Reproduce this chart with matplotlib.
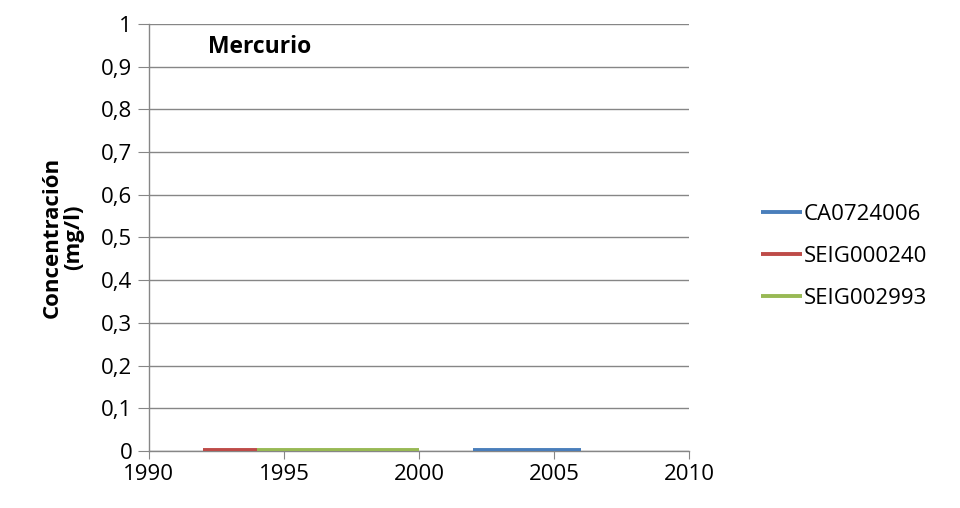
import matplotlib.pyplot as plt
from matplotlib.ticker import FuncFormatter

plt.rcParams['font.family'] = ['Open Sans', 'DejaVu Sans']

# series data (years, concentration mg/l)
years_ca = [2002, 2006]
vals_ca = [0.002, 0.002]
years_s240 = [1992, 1994]
vals_s240 = [0.002, 0.002]
years_s2993 = [1994, 2000]
vals_s2993 = [0.002, 0.002]

x_ticks = [1990, 1995, 2000, 2005, 2010]
y_ticks = [0, 0.1, 0.2, 0.3, 0.4, 0.5, 0.6, 0.7, 0.8, 0.9, 1]

fig = plt.figure(figsize=(9.6, 5.08), dpi=100)
ax = fig.add_axes([0.155, 0.112, 0.563, 0.841])

ax.plot(years_ca, vals_ca, color='#4a7ebb', lw=2.8, label='CA0724006', zorder=3, solid_capstyle='butt')
ax.plot(years_s240, vals_s240, color='#be4b48', lw=2.8, label='SEIG000240', zorder=3, solid_capstyle='butt')
ax.plot(years_s2993, vals_s2993, color='#98b954', lw=2.8, label='SEIG002993', zorder=3, solid_capstyle='butt')

ax.set_xlim(1990, 2010)
ax.set_ylim(0, 1)
ax.set_xticks(x_ticks)
ax.set_yticks(y_ticks)
ax.yaxis.set_major_formatter(FuncFormatter(lambda v, p: ('%g' % round(v, 1)).replace('.', ',')))
ax.grid(axis='y', color='#868686', lw=1.0)
ax.set_axisbelow(True)

for s in ['top', 'right']:
    ax.spines[s].set_visible(False)
for s in ['left', 'bottom']:
    ax.spines[s].set_color('#868686')
    ax.spines[s].set_linewidth(1.0)
ax.tick_params(axis='x', direction='out', length=6, color='#868686', labelsize=16, pad=3)
ax.tick_params(axis='y', direction='out', length=8, color='#868686', labelsize=16, pad=4)

ax.set_ylabel('Concentración\n(mg/l)', fontsize=16, fontweight='bold', labelpad=12, linespacing=1.0)
ax.text(1992.2, 0.945, 'Mercurio', fontsize=16.5, fontweight='bold', va='center')

ax.legend(loc='center left', bbox_to_anchor=(0.772, 0.495), bbox_transform=fig.transFigure,
          frameon=False, fontsize=16, handlelength=1.85, handletextpad=0.05, labelspacing=0.95)

fig.savefig('out.png', dpi=100)
